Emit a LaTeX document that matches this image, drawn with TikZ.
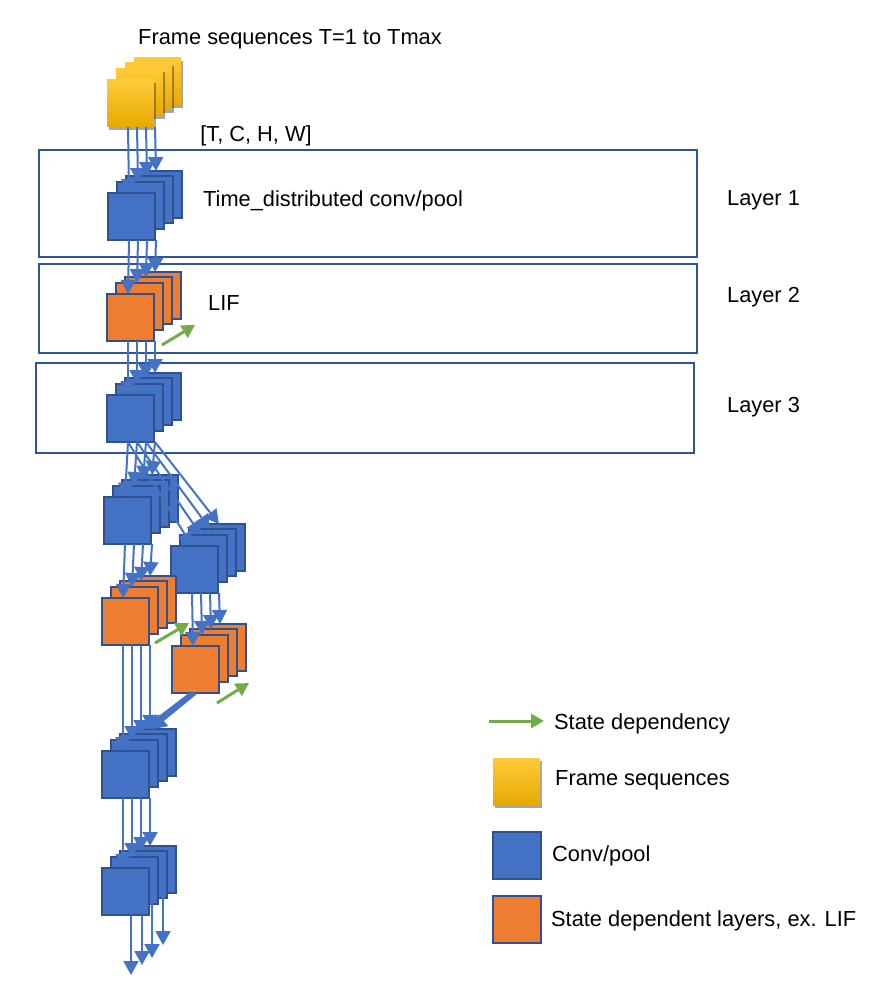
\documentclass[tikz,border=0pt]{standalone}
\usepackage{fontspec}
\setmainfont{Liberation Sans}
\usetikzlibrary{arrows.meta,shadows,calc}
\definecolor{boxblue}{HTML}{2F5597}
\definecolor{sqborder}{HTML}{2F528F}
\definecolor{sqblue}{HTML}{4472C4}
\definecolor{sqorange}{HTML}{ED7D31}
\definecolor{arrgreen}{HTML}{70AD47}
\definecolor{yeltop}{HTML}{FFCA3A}
\definecolor{yelbot}{HTML}{E6AA00}
\tikzset{
 sq/.style={draw=sqborder, line width=2pt, minimum width=47pt, minimum height=47pt, inner sep=0pt, outer sep=0pt, anchor=north west},
 convsq/.style={sq, fill=sqblue},
 lifsq/.style={sq, fill=sqorange},
 frmsq/.style={sq, draw=none, top color=yeltop, bottom color=yelbot, drop shadow={shadow xshift=2pt, shadow yshift=-3pt, opacity=0.35, fill=black}},
 layerbox/.style={draw=boxblue, line width=2pt, anchor=north west, inner sep=0pt, outer sep=0pt},
 flowarr/.style={draw=sqblue, line width=2pt, -{Triangle[length=14pt,width=15pt]}},
 statearr/.style={draw=arrgreen, line width=3pt, -{Triangle[length=13pt,width=14pt]}},
 lbl/.style={font=\fontsize{21.8}{26}\selectfont, inner sep=0pt, anchor=base west},
}
\newcommand\mystack[4]{%
 \node[#4] (#1d) at (#2+27,#3-22) {};
 \node[#4] (#1c) at (#2+18,#3-17) {};
 \node[#4] (#1b) at (#2+9,#3-11) {};
 \node[#4] (#1a) at (#2,#3) {};
}
\newcommand\flowto[2]{%
 \foreach \i in {a,b,c,d}{\draw[flowarr] ($(#1\i.south |- #1a.south)+(-2.5,0)$) -- ($(#2\i.north)+(-2.5,0)$);}
}
\begin{document}
\begin{tikzpicture}[x=1pt,y=-1pt]
\useasboundingbox (0,0) rectangle (884,995);
% layer boxes
\node[layerbox, minimum width=658pt, minimum height=107pt] (L1) at (39,150) {};
\node[layerbox, minimum width=658pt, minimum height=89pt] (L2) at (39,264) {};
\node[layerbox, minimum width=658pt, minimum height=90pt] (L3) at (36,363) {};
% stacks
\mystack{f}{107}{80}{frmsq}
\mystack{s1}{108}{193}{convsq}
\mystack{s2}{107}{294}{lifsq}
\mystack{s3}{107}{395}{convsq}
\mystack{s4}{104}{497}{convsq}
\mystack{s5}{171}{546}{convsq}
\mystack{s6}{102}{598}{lifsq}
\mystack{s7}{172}{646}{lifsq}
\mystack{s8}{102}{751}{convsq}
\mystack{s9}{102}{868}{convsq}
% flows
\flowto{f}{s1}
\flowto{s1}{s2}
\flowto{s2}{s3}
\flowto{s3}{s4}
\flowto{s3}{s5}
\flowto{s4}{s6}
\flowto{s5}{s7}
\flowto{s6}{s8}
\flowto{s8}{s9}
\foreach \i/\d/\e in {a/-5/-9,b/-3/-6,c/-1/-3,d/1/0}
  \draw[flowarr] ($(s7a.south)+(\d,0)$) -- ($(s8d.north)+(\e,0)$);
\coordinate (e1) at (131,975);
\coordinate (e2) at (142,965);
\coordinate (e3) at (152,958);
\coordinate (e4) at (163,945);
\draw[flowarr] (e1 |- s9a.south) -- (e1);
\draw[flowarr] (e2 |- s9a.south) -- (e2);
\draw[flowarr] (e3 |- s9c.south) -- (e3);
\draw[flowarr] (e4 |- s9d.south) -- (e4);
% state dependency arrows
\coordinate (g1s) at (162,345); \coordinate (g1e) at (195,325);
\coordinate (g2s) at (155,643); \coordinate (g2e) at (189,623);
\coordinate (g3s) at (217,703); \coordinate (g3e) at (249,683);
\draw[statearr] (g1s) -- (g1e);
\draw[statearr] (g2s) -- (g2e);
\draw[statearr] (g3s) -- (g3e);
% texts
\node[lbl, anchor=base] (title) at (290,45) {Frame sequences T=1 to Tmax};
\node[lbl, anchor=base] (dims) at (256,142) {[T, C, H, W]};
\node[lbl] (tdc) at (203,207) {Time\_distributed conv/pool};
\node[lbl] (lif) at (208,310) {LIF};
\node[lbl] (lay1) at (727,205) {Layer 1};
\node[lbl] (lay2) at (727,302) {Layer 2};
\node[lbl] (lay3) at (727,412) {Layer 3};
% legend
\coordinate (lgs) at (489,721); \coordinate (lge) at (544,721);
\draw[statearr] (lgs) -- (lge);
\node[lbl] (lgt1) at (554,729) {State dependency};
\node[frmsq] (lgf) at (493,758) {};
\node[lbl] (lgt2) at (555,785) {Frame sequences};
\node[convsq, minimum width=48pt, minimum height=47pt] (lgc) at (493,832) {};
\node[lbl] (lgt3) at (552,861) {Conv/pool};
\node[lifsq, minimum width=48pt, minimum height=47pt] (lgl) at (493,896) {};
\node[lbl] (lgt4) at (551,926) {State dependent layers, ex. LIF};
\end{tikzpicture}
\end{document}
